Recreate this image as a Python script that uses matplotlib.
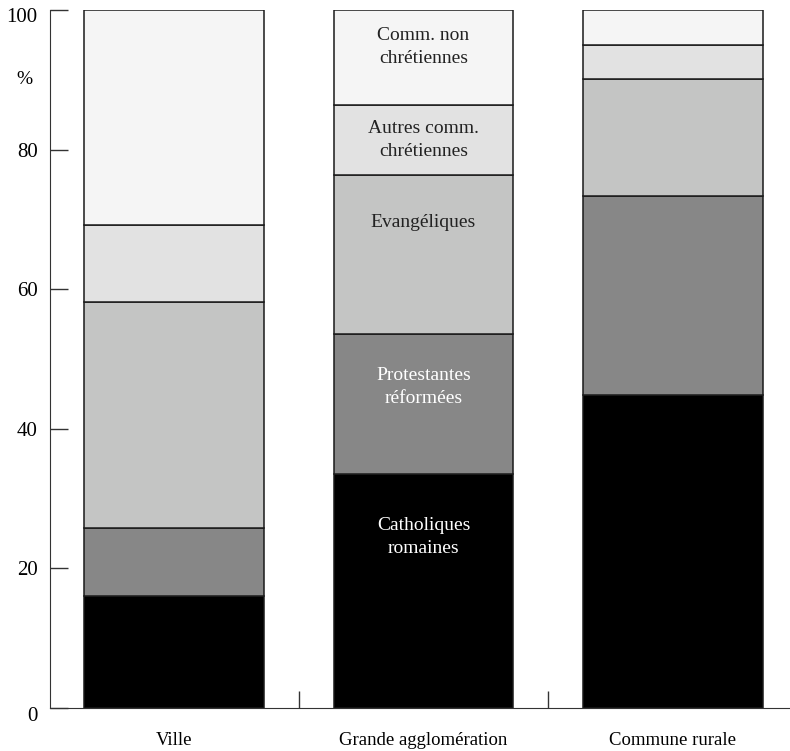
import matplotlib.pyplot as plt
import matplotlib.transforms as mtransforms
import numpy as np

plt.rcParams['font.family'] = ['Liberation Serif', 'DejaVu Serif']

categories = ['Ville', 'Grande agglomération', 'Commune rurale']
series_names = ['Catholiques\nromaines', 'Protestantes\nréformées', 'Evangéliques',
                'Autres comm.\nchrétiennes', 'Comm. non\nchrétiennes']
# parts in % for each category (bottom to top)
catholiques = [16.0, 33.5, 44.8]
protestantes = [9.8, 20.1, 28.6]
evangeliques = [32.4, 22.8, 16.7]
autres_chr = [11.0, 10.0, 4.9]
non_chr = [30.8, 13.6, 5.0]

colors = ['#000000', '#878787', '#c4c5c4', '#e2e2e2', '#f5f5f5']
text_colors = ['white', 'white', '#222222', '#222222', '#222222']
label_y = [24.5, 46.0, 69.6, 81.4, 94.7]

values = [catholiques, protestantes, evangeliques, autres_chr, non_chr]

fig = plt.figure(figsize=(7.9, 7.51), dpi=100)
ax = fig.add_axes([50 / 790, 43 / 751, 740 / 790, 698 / 751])

x = np.arange(len(categories))
bottom = np.zeros(len(categories))
for vals, col in zip(values, colors):
    ax.bar(x, vals, 0.72, bottom=bottom, color=col, edgecolor='#1a1a1a', linewidth=1.1)
    bottom += np.array(vals)

# segment names written in the middle bar
for name, ly, tc in zip(series_names, label_y, text_colors):
    ax.text(1, ly, name, ha='center', va='center', fontsize=14, color=tc, linespacing=1.45)

ax.set_xlim(-0.497, 2.469)
ax.set_ylim(0, 100)
ax.set_yticks([0, 20, 40, 60, 80, 100])
ax.set_xticks([0.5, 1.5])
ax.set_xticklabels([])
ax.tick_params(axis='y', direction='in', length=13, width=1, labelsize=15, pad=9, color='#333333')
ax.tick_params(axis='x', direction='in', length=12, width=1, color='#333333')
for c, name in zip(x, categories):
    ax.text(c, -3.5, name, ha='center', va='top', fontsize=13.5)
ax.text(-0.6, 90, '%', ha='center', va='center', fontsize=14, clip_on=False)

# 0 and 100 sit a bit lower than their ticks in the original
ticks = ax.yaxis.get_major_ticks()
for i, dy in [(0, -6), (5, -5)]:
    off = mtransforms.ScaledTranslation(0, dy / 100, fig.dpi_scale_trans)
    ticks[i].label1.set_transform(ticks[i].label1.get_transform() + off)

ax.spines['top'].set_visible(False)
ax.spines['right'].set_visible(False)
ax.spines['left'].set_color('#333333')
ax.spines['bottom'].set_color('#333333')

fig.savefig('out.png', dpi=100)
